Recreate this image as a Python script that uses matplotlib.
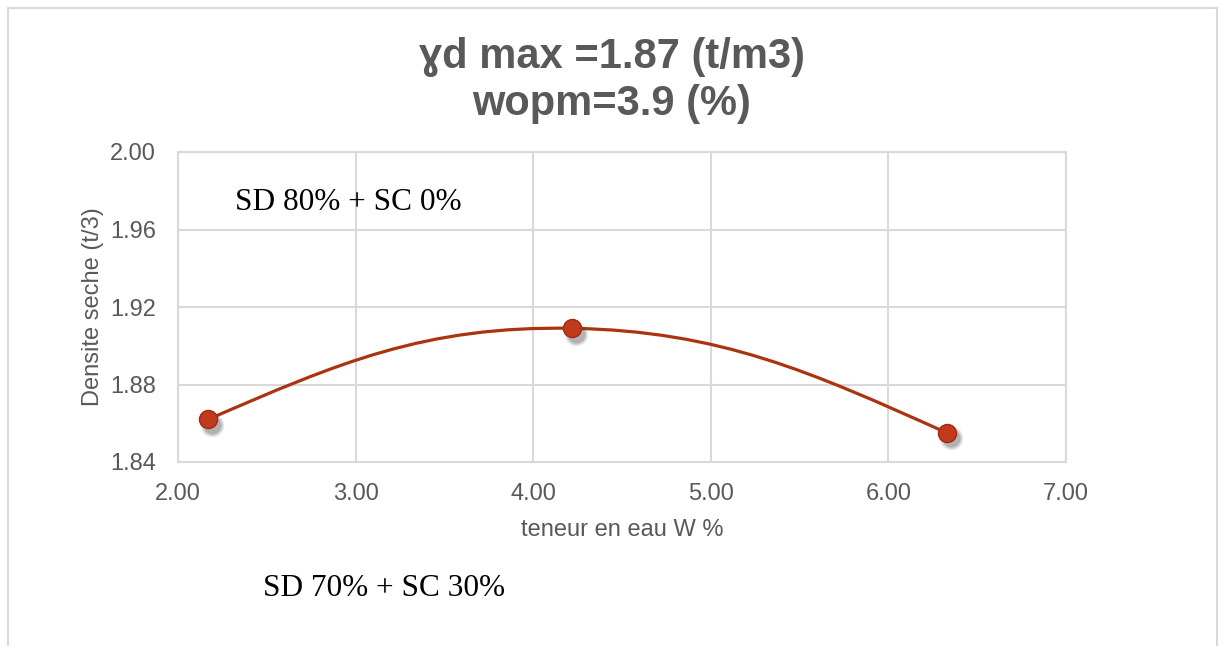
import numpy as np
import matplotlib
matplotlib.use("Agg")
import matplotlib.pyplot as plt
import matplotlib.transforms as mtransforms
from matplotlib.path import Path
from matplotlib.patches import PathPatch, Rectangle

# --------------------------------------------------------------
# Data
# --------------------------------------------------------------
w_pct = [2.17, 4.22, 6.33]          # teneur en eau W %
rho_d = [1.862, 1.909, 1.855]       # densite seche (t/m3)

x_ticks = [2.0, 3.0, 4.0, 5.0, 6.0, 7.0]
y_ticks = [1.84, 1.88, 1.92, 1.96, 2.00]

title_lines = ["ɣd max =1.87 (t/m3)", "wopm=3.9 (%)"]
note_top = "SD 80% + SC 0%"
note_bottom = "SD 70% + SC 30%"

GRAY_TXT = "#595959"
GRID = "#D9D9D9"
LINE_C = "#A9340F"
MARK_C = "#C23A1C"


def smooth_path(xs, ys, k=0.2, k_end=0.6):
    """Bezier path like Excel's smoothed line (control points from neighbours)."""
    P = np.column_stack([xs, ys])
    n = len(P)
    verts = [P[0]]
    codes = [Path.MOVETO]
    for i in range(n - 1):
        p0, p1 = P[i], P[i + 1]
        c1 = p0 + (p1 - P[i - 1]) * k if i > 0 else None
        c2 = p1 - (P[i + 2] - p0) * k if i < n - 2 else None
        if c1 is None and c2 is None:
            c1, c2 = p0 + (p1 - p0) / 3, p1 - (p1 - p0) / 3
        elif c1 is None:
            c1 = p0 + (c2 - p0) * k_end
        elif c2 is None:
            c2 = p1 + (c1 - p1) * k_end
        verts += [c1, c2, p1]
        codes += [Path.CURVE4] * 3
    return Path(verts, codes)


fig = plt.figure(figsize=(12.24, 6.46), dpi=100)
ax = fig.add_axes([178 / 1224, 1 - 462 / 646, 888 / 1224, 310 / 646])

# outer chart border (Excel chart area)
fig.patches.append(Rectangle((8 / 1224, -0.05), 1209 / 1224, 1.05 - 8 / 646,
                             transform=fig.transFigure, fill=False,
                             edgecolor=GRID, linewidth=1.5))

ax.set_xlim(2.0, 7.0)
ax.set_ylim(1.84, 2.00)
ax.set_xticks(x_ticks)
ax.set_yticks(y_ticks)
ax.set_xticklabels([f"{v:.2f}" for v in x_ticks])
ax.set_yticklabels([f"{v:.2f}" for v in y_ticks])
ax.tick_params(length=0, labelsize=17, labelcolor=GRAY_TXT)
ax.tick_params(axis='x', pad=15)
ax.tick_params(axis='y', pad=16)
for lab in ax.get_xticklabels() + ax.get_yticklabels():
    lab.set_family("Liberation Sans")
ax.grid(True, color=GRID, linewidth=1.5)
ax.set_axisbelow(True)
for sp in ax.spines.values():
    sp.set_color(GRID)
    sp.set_linewidth(1.5)

# smoothed curve
ax.add_patch(PathPatch(smooth_path(w_pct, rho_d), fill=False,
                       edgecolor=LINE_C, linewidth=2.3, zorder=3))

# soft marker shadow (a few stacked translucent discs)
for ms, a in [(17, 0.10), (15, 0.15), (13, 0.22)]:
    sh = mtransforms.offset_copy(ax.transData, fig=fig, x=3, y=-4, units='points')
    ax.plot(w_pct, rho_d, linestyle='none', marker='o', markersize=ms,
            markerfacecolor='#444444', markeredgewidth=0, alpha=a,
            transform=sh, zorder=3.5)

ax.plot(w_pct, rho_d, linestyle='none', marker='o', markersize=13,
        markerfacecolor=MARK_C, markeredgecolor="#A02A12", markeredgewidth=1,
        zorder=4)

ax.set_xlabel("teneur en eau W %", fontsize=17, color=GRAY_TXT,
              family="Liberation Sans", labelpad=10)
ax.set_ylabel("Densite seche (t/3)", fontsize=17, color=GRAY_TXT,
              family="Liberation Sans", labelpad=4)

# title (two centred bold lines)
fig.text(0.5, 1 - 57 / 646, title_lines[0], ha='center', va='center',
         fontsize=30, fontweight='bold', color=GRAY_TXT,
         family=["Liberation Sans", "DejaVu Sans"])
fig.text(0.5, 1 - 104 / 646, title_lines[1], ha='center', va='center',
         fontsize=30, fontweight='bold', color=GRAY_TXT,
         family=["Liberation Sans", "DejaVu Sans"])

# free text notes
fig.text(235 / 1224, 1 - 202 / 646, note_top, ha='left', va='center',
         fontsize=22.5, color='black', family="Liberation Serif")
fig.text(263 / 1224, 1 - 588 / 646, note_bottom, ha='left', va='center',
         fontsize=22.5, color='black', family="Liberation Serif")

fig.savefig("out.png", dpi=100)
